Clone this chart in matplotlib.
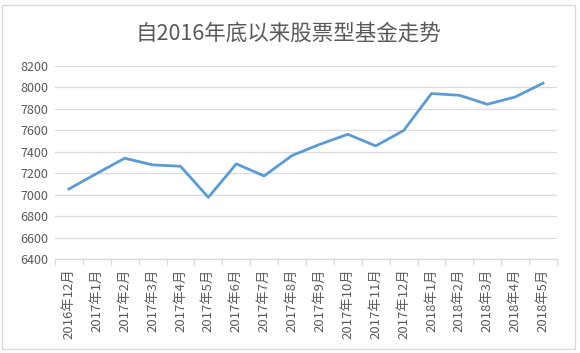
import matplotlib
matplotlib.use("Agg")
import matplotlib.pyplot as plt
from matplotlib.patches import Rectangle

plt.rcParams['font.family'] = ['Noto Sans CJK SC', 'DejaVu Sans']

categories = ["2016年12月", "2017年1月", "2017年2月", "2017年3月", "2017年4月", "2017年5月",
              "2017年6月", "2017年7月", "2017年8月", "2017年9月", "2017年10月", "2017年11月",
              "2017年12月", "2018年1月", "2018年2月", "2018年3月", "2018年4月", "2018年5月"]
values = [7053, 7198, 7340, 7278, 7265, 6975, 7287, 7175, 7365, 7470, 7563, 7455,
          7598, 7943, 7927, 7843, 7911, 8040]
yticks = [6400, 6600, 6800, 7000, 7200, 7400, 7600, 7800, 8000, 8200]
title = "自2016年底以来股票型基金走势"

text_color = "#595959"
grid_color = "#D9D9D9"
line_color = "#5B9BD5"

fig = plt.figure(figsize=(5.8, 3.53), dpi=100)
fig.patch.set_facecolor("white")
ax = fig.add_axes([0.0948, 0.2663, 0.8655, 0.5467])

x = list(range(len(categories)))
ax.plot(x, values, color=line_color, linewidth=2.0, solid_joinstyle="round", zorder=3)

ax.set_xlim(-0.5, len(categories) - 0.5)
ax.set_ylim(yticks[0], yticks[-1])
ax.set_yticks(yticks)
ax.set_yticklabels([str(v) for v in yticks], color=text_color, fontsize=9)
ax.yaxis.grid(True, color=grid_color, linewidth=0.9)
ax.set_axisbelow(True)

ax.set_xticks(x)
ax.set_xticklabels(categories, rotation=90, color=text_color, fontsize=9.5)
ax.tick_params(axis="x", which="major", length=0, pad=7)
ax.set_xticks([i - 0.5 for i in range(len(categories) + 1)], minor=True)
ax.tick_params(axis="x", which="minor", length=4, color=grid_color, width=0.9)
ax.tick_params(axis="y", length=0, pad=5)

for s in ["top", "right", "left"]:
    ax.spines[s].set_visible(False)
ax.spines["bottom"].set_color(grid_color)
ax.spines["bottom"].set_linewidth(0.9)

fig.text(0.497, 0.905, title, ha="center", va="center", fontsize=15.5, color=text_color)

fig.patches.append(Rectangle((0.004, 0.01), 0.988, 0.975, transform=fig.transFigure,
                             fill=False, edgecolor="#D9D9D9", linewidth=1.0))

fig.savefig("out.png", dpi=100, facecolor="white")
